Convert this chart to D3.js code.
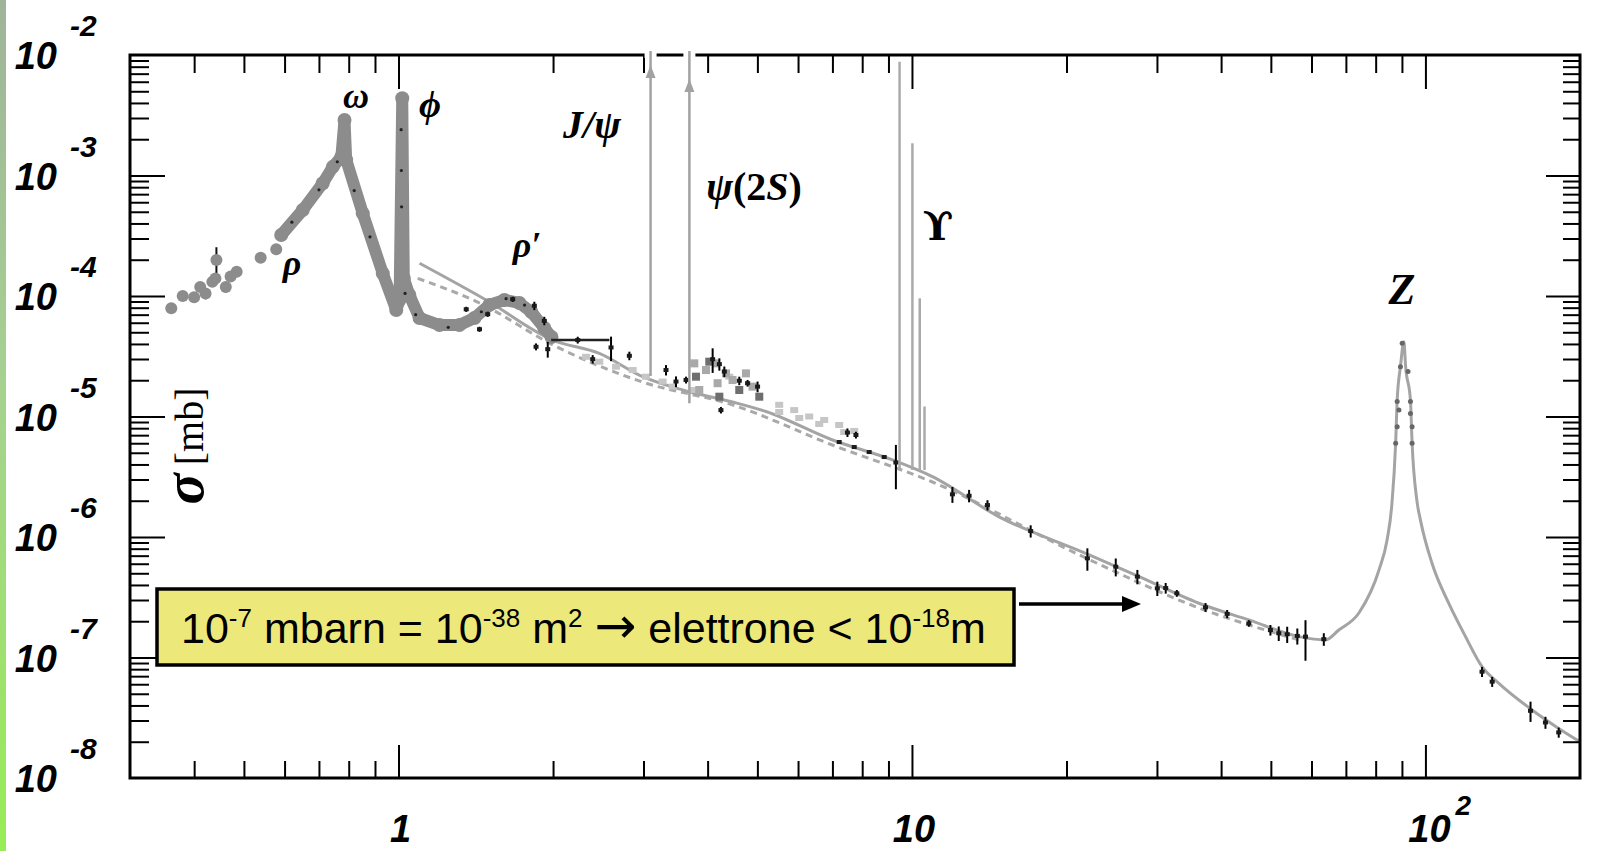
<!DOCTYPE html>
<html>
<head>
<meta charset="utf-8">
<script src="https://cdn.jsdelivr.net/npm/d3@7"></script>
<style>
body { margin: 0; background: #fff; }
svg { display: block; }
.tick line { stroke: #000; stroke-width: 2; }
</style>
</head>
<body>
<svg id="chart" width="1622" height="851"></svg>
<script>
// sqrt(s) in GeV, sigma in mb

// big grey dots below the rho, [E, sigma, err]
var lowPoints = [
    [0.361, 7.9e-5, 0], [0.380, 1.0e-4, 0], [0.400, 9.75e-5, 9e-6],
    [0.411, 1.19e-4, 0], [0.421, 1.05e-4, 1.1e-5], [0.434, 1.31e-4, 0],
    [0.440, 1.40e-4, 1.5e-5], [0.442, 1.99e-4, 5.5e-5], [0.461, 1.19e-4, 1.2e-5],
    [0.471, 1.45e-4, 0], [0.484, 1.59e-4, 1.5e-5], [0.539, 2.08e-4, 0],
    [0.578, 2.44e-4, 0]
];

// dense grey band: rho, omega, phi, rho'
var hadronBand = [
    [0.591, 3.21e-4], [0.651, 5.17e-4], [0.712, 8.62e-4], [0.745, 1.18e-3],
    [0.774, 1.43e-3], [0.785, 2.89e-3], [0.791, 1.35e-3], [0.852, 4.85e-4],
    [0.932, 1.54e-4], [0.990, 7.65e-5], [1.005, 9.3e-5], [1.017, 4.37e-3],
    [1.024, 1.4e-4], [1.05, 1.02e-4], [1.099, 6.57e-5], [1.202, 5.74e-5],
    [1.314, 5.74e-5], [1.406, 6.57e-5], [1.503, 8.42e-5], [1.608, 9.27e-5],
    [1.72, 8.75e-5], [1.815, 7.37e-5], [1.923, 5.42e-5], [1.986, 4.57e-5]
];

// small dark dots inside the band
var bandDots = [
    [0.62, 4.1e-4], [0.70, 7.6e-4], [0.76, 1.3e-3], [0.82, 7.5e-4], [0.88, 3.1e-4],
    [1.012, 2.4e-3], [1.013, 1.1e-3], [1.014, 5.5e-4], [1.03, 1.05e-4], [1.08, 7.0e-5],
    [1.25, 5.5e-5], [1.45, 7.4e-5], [1.62, 9.5e-5], [1.76, 8.4e-5]
];

// solid theory curve, continuum and Z
var contLine = [
    [1.099, 1.87e-4], [1.481, 9.27e-5], [1.997, 4.31e-5], [2.461, 3.34e-5],
    [2.989, 2.14e-5], [3.575, 1.66e-5], [4.473, 1.32e-5], [5.196, 1.10e-5],
    [7.003, 6.38e-6], [9.166, 4.36e-6], [10.96, 3.17e-6], [14.78, 1.47e-6],
    [21.8, 7.32e-7], [27.7, 4.69e-7], [36.2, 2.82e-7], [45.3, 2.05e-7],
    [56.7, 1.49e-7], [63.9, 1.40e-7], [67.8, 1.69e-7], [74.2, 2.34e-7],
    [81.2, 5.32e-7], [84.2, 9.44e-7], [86.0, 1.84e-6], [87.5, 6.0e-6],
    [88.1, 1.37e-5], [89.4, 2.59e-5], [90.8, 4.18e-5], [91.5, 2.59e-5],
    [93.5, 1.37e-5], [94.2, 6.0e-6], [96.2, 2.03e-6], [97.8, 1.38e-6],
    [103.0, 6.05e-7], [111.0, 2.82e-7], [119.7, 1.49e-7], [128.9, 8.4e-8],
    [139.0, 6.1e-8], [161.3, 3.67e-8], [181.8, 2.58e-8], [200, 2.0e-8]
];

// dashed curve
var dashLine = [
    [1.090, 1.40e-4], [1.438, 8.75e-5], [2.0, 3.92e-5], [2.99, 1.93e-5],
    [4.47, 1.25e-5], [7.0, 5.8e-6], [10.96, 2.86e-6], [21.8, 6.7e-7],
    [36.2, 2.58e-7], [56.7, 1.40e-7]
];

// black measurements, [E, sigma, err]
var blackPoints = [
    [1.355, 7.76e-5, 3.8e-6], [1.438, 5.30e-5, 2.6e-6], [1.492, 7.06e-5, 3.5e-6],
    [1.669, 9.40e-5, 4.6e-6], [1.839, 8.30e-5, 6.6e-6], [1.923, 6.22e-5, 5.0e-6],
    [1.853, 3.79e-5, 2.5e-6], [1.953, 3.62e-5, 5.4e-6], [2.234, 4.31e-5, 2.8e-6],
    [2.389, 2.99e-5, 2.4e-6], [2.594, 3.74e-5, 8.6e-6], [2.816, 3.19e-5, 2.6e-6],
    [3.319, 2.43e-5, 2.4e-6], [3.471, 1.95e-5, 2.0e-6], [3.631, 2.01e-5, 1.3e-6],
    [4.091, 2.99e-5, 6.9e-6], [4.216, 2.72e-5, 3.2e-6], [4.311, 2.36e-5, 2.4e-6],
    [4.246, 1.13e-5, 7e-7], [4.61, 1.98e-5, 1.6e-6], [4.785, 1.89e-5, 1.2e-6],
    [5.004, 1.77e-5, 1.8e-6], [7.216, 6.14e-6, 0], [7.488, 7.36e-6, 6e-7],
    [7.719, 5.58e-6, 0], [7.778, 7.02e-6, 4.5e-7], [8.255, 5.07e-6, 0],
    [8.829, 4.61e-6, 0], [9.305, 4.15e-6, 1.66e-6], [11.99, 2.26e-6, 3.4e-7],
    [12.92, 2.20e-6, 2.6e-7], [14.03, 1.84e-6, 1.8e-7], [17.03, 1.12e-6, 1.3e-7],
    [21.96, 6.65e-7, 1.4e-7], [24.94, 5.67e-7, 9.6e-8], [27.48, 4.69e-7, 6.4e-8],
    [30.05, 3.75e-7, 5.1e-8], [31.2, 3.77e-7, 3.8e-8], [32.8, 3.41e-7, 2.2e-8],
    [37.3, 2.61e-7, 2.2e-8], [41.1, 2.30e-7, 1.8e-8], [45.3, 1.92e-7, 1.2e-8],
    [49.9, 1.69e-7, 1.7e-8], [51.8, 1.59e-7, 2.2e-8], [53.8, 1.56e-7, 2.4e-8],
    [56.3, 1.51e-7, 2.3e-8], [58.4, 1.49e-7, 5.5e-8], [63.4, 1.42e-7, 1.7e-8],
    [128.9, 7.62e-8, 7.3e-9], [134.9, 6.3e-8, 6e-9], [160.2, 3.61e-8, 6.9e-9],
    [171.3, 2.89e-8, 3.3e-9], [181.8, 2.39e-8, 2.3e-9]
];

// one wide bin, [Emin, Emax, sigma]
var wideBins = [[1.983, 2.575, 4.31e-5]];

// light grey points (2-8 GeV)
var lightPoints = [
    [2.319, 3.13e-5], [2.461, 2.85e-5], [2.653, 2.59e-5], [2.858, 2.43e-5],
    [3.034, 2.14e-5], [3.269, 1.95e-5], [3.419, 1.77e-5], [3.739, 1.66e-5],
    [4.408, 2.14e-5], [5.514, 1.25e-5], [5.897, 1.13e-5], [6.308, 1.0e-5],
    [6.747, 9.35e-6], [7.216, 8.5e-6], [7.719, 7.58e-6], [5.514, 1.09e-5],
    [6.032, 9.72e-6], [6.598, 8.67e-6], [7.379, 7.43e-6]
];

// charm threshold cluster
var charmPoints = [
    [3.768, 2.76e-5], [3.797, 2.14e-5], [3.853, 1.66e-5], [3.971, 2.43e-5],
    [4.030, 2.85e-5], [4.153, 2.76e-5], [4.183, 1.89e-5], [4.216, 1.46e-5],
    [4.344, 2.28e-5], [4.473, 2.01e-5], [4.61, 1.66e-5], [4.75, 2.28e-5],
    [4.893, 1.77e-5], [5.043, 1.46e-5]
];

// dots on the Z peak
var zPeakDots = [
    [90.1, 4.05e-5], [89.4, 2.59e-5], [92.5, 2.36e-5], [88.1, 1.33e-5],
    [93.5, 1.33e-5], [88.8, 1.13e-5], [93.5, 1.06e-5], [88.1, 8.22e-6],
    [94.2, 8.22e-6], [87.5, 6.0e-6], [94.2, 6.0e-6]
];

// narrow resonances: [E, base, arrow tip]
var psiArrows = [[3.097, 2.17e-5, 8.26e-3], [3.686, 1.29e-5, 6.32e-3]];
var upsilonLines = [[9.46, 8.8e-3], [10.02, 1.85e-3], [10.355, 9.57e-5], [10.58, 1.21e-5]];
var upsilonBase = 3.6e-6;
var arrowTop = 1.08e-2;

var xMajor = [1, 10, 100];
var xMinor = [0.4, 0.5, 0.6, 0.7, 0.8, 0.9, 2, 3, 4, 5, 6, 7, 8, 9, 20, 30, 40, 50, 60, 70, 80, 90];
var yDecades = [-8, -7, -6, -5, -4, -3, -2];
var yMinorMult = [2, 3, 4, 5, 6, 7, 8, 9];

var svg = d3.select("#chart");
var frameL = 130, frameR = 1580, frameT = 55, frameB = 778;

var x = d3.scaleLog().domain([0.3, 200]).range([frameL, frameR]);
var y = d3.scaleLog().domain([1e-8, 1e-2]).range([frameB, frameT]);

// green slide edge
var grad = svg.append("defs").append("linearGradient")
    .attr("id", "edge").attr("x1", 0).attr("y1", 0).attr("x2", 0).attr("y2", 1);
grad.append("stop").attr("offset", "0%").attr("stop-color", "#9fb49a");
grad.append("stop").attr("offset", "45%").attr("stop-color", "#a6d190");
grad.append("stop").attr("offset", "100%").attr("stop-color", "#98ec57");
svg.append("rect").attr("x", 0).attr("y", 0).attr("width", 6).attr("height", 851)
    .attr("fill", "url(#edge)");

var line = d3.line()
    .x(function(d) { return x(d[0]); })
    .y(function(d) { return y(d[1]); });

// dashed and solid curves
svg.append("path")
    .datum(dashLine)
    .attr("d", line.curve(d3.curveMonotoneX))
    .attr("fill", "none")
    .attr("stroke", "#a9a9a9")
    .attr("stroke-width", 3)
    .attr("stroke-dasharray", "7,5");

svg.append("path")
    .datum(contLine)
    .attr("d", line.curve(d3.curveMonotoneX))
    .attr("fill", "none")
    .attr("stroke", "#a4a4a4")
    .attr("stroke-width", 3);

// light grey points
svg.selectAll(".light")
    .data(lightPoints)
    .enter().append("rect")
    .attr("class", "light")
    .attr("x", function(d) { return x(d[0]) - 4; })
    .attr("y", function(d) { return y(d[1]) - 3; })
    .attr("width", 8).attr("height", 6)
    .attr("fill", "#c6c6c6");

// heavy grey band
svg.append("path")
    .datum(hadronBand)
    .attr("d", line.curve(d3.curveLinear))
    .attr("fill", "none")
    .attr("stroke", "#8c8c8c")
    .attr("stroke-width", 12)
    .attr("stroke-linejoin", "round")
    .attr("stroke-linecap", "round");

svg.selectAll(".band")
    .data(hadronBand)
    .enter().append("circle")
    .attr("class", "band")
    .attr("cx", function(d) { return x(d[0]); })
    .attr("cy", function(d) { return y(d[1]); })
    .attr("r", 7)
    .attr("fill", "#8c8c8c");

svg.selectAll(".bdot")
    .data(bandDots)
    .enter().append("circle")
    .attr("class", "bdot")
    .attr("cx", function(d) { return x(d[0]); })
    .attr("cy", function(d) { return y(d[1]); })
    .attr("r", 1.6)
    .attr("fill", "#222");

// low energy dots with error bars
svg.selectAll(".lowerr")
    .data(lowPoints.filter(function(d) { return d[2] > 0; }))
    .enter().append("line")
    .attr("class", "lowerr")
    .attr("x1", function(d) { return x(d[0]); })
    .attr("x2", function(d) { return x(d[0]); })
    .attr("y1", function(d) { return y(d[1] - d[2]); })
    .attr("y2", function(d) { return y(d[1] + d[2]); })
    .attr("stroke", "#111")
    .attr("stroke-width", 2);

svg.selectAll(".low")
    .data(lowPoints)
    .enter().append("circle")
    .attr("class", "low")
    .attr("cx", function(d) { return x(d[0]); })
    .attr("cy", function(d) { return y(d[1]); })
    .attr("r", 6)
    .attr("fill", "#8c8c8c");

// charm cluster
svg.selectAll(".charm")
    .data(charmPoints)
    .enter().append("rect")
    .attr("class", "charm")
    .attr("x", function(d) { return x(d[0]) - 4; })
    .attr("y", function(d) { return y(d[1]) - 4; })
    .attr("width", 8).attr("height", 8)
    .attr("fill", function(d, i) { return i % 3 == 1 ? "#6e6e6e" : "#a9a9a9"; });

// black data with error bars
svg.selectAll(".err")
    .data(blackPoints.filter(function(d) { return d[2] > 0; }))
    .enter().append("line")
    .attr("class", "err")
    .attr("x1", function(d) { return x(d[0]); })
    .attr("x2", function(d) { return x(d[0]); })
    .attr("y1", function(d) { return y(d[1] - d[2]); })
    .attr("y2", function(d) { return y(d[1] + d[2]); })
    .attr("stroke", "#000")
    .attr("stroke-width", 2);

svg.selectAll(".xerr")
    .data(wideBins)
    .enter().append("line")
    .attr("class", "xerr")
    .attr("x1", function(d) { return x(d[0]); })
    .attr("x2", function(d) { return x(d[1]); })
    .attr("y1", function(d) { return y(d[2]); })
    .attr("y2", function(d) { return y(d[2]); })
    .attr("stroke", "#222")
    .attr("stroke-width", 2.5);

svg.selectAll(".blk")
    .data(blackPoints)
    .enter().append("rect")
    .attr("class", "blk")
    .attr("x", function(d) { return x(d[0]) - 2.5; })
    .attr("y", function(d) { return y(d[1]) - 2; })
    .attr("width", 5).attr("height", 4)
    .attr("fill", "#1a1a1a");

// Z peak dots
svg.selectAll(".zdot")
    .data(zPeakDots)
    .enter().append("circle")
    .attr("class", "zdot")
    .attr("cx", function(d) { return x(d[0]); })
    .attr("cy", function(d) { return y(d[1]); })
    .attr("r", 2.5)
    .attr("fill", "#666");

// frame
svg.append("rect")
    .attr("x", frameL).attr("y", frameT)
    .attr("width", frameR - frameL).attr("height", frameB - frameT)
    .attr("fill", "none")
    .attr("stroke", "#000")
    .attr("stroke-width", 3);

var yMajor = yDecades.slice(1, -1).map(function(p) { return Math.pow(10, p); });
var yMinor = [];
yDecades.slice(0, -1).forEach(function(p) {
    yMinorMult.forEach(function(m) { yMinor.push(m * Math.pow(10, p)); });
});

function drawTicks(axis, tr, vals, size) {
    svg.append("g")
        .attr("transform", tr)
        .call(axis.tickValues(vals).tickSize(size).tickFormat(""))
        .call(function(g) { g.select(".domain").remove(); });
}
drawTicks(d3.axisTop(x), "translate(0," + frameB + ")", xMajor, 33);
drawTicks(d3.axisTop(x), "translate(0," + frameB + ")", xMinor, 17);
drawTicks(d3.axisBottom(x), "translate(0," + frameT + ")", xMajor, 34);
drawTicks(d3.axisBottom(x), "translate(0," + frameT + ")", xMinor, 18);
drawTicks(d3.axisRight(y), "translate(" + frameL + ",0)", yMajor, 35);
drawTicks(d3.axisRight(y), "translate(" + frameL + ",0)", yMinor, 19);
drawTicks(d3.axisLeft(y), "translate(" + frameR + ",0)", yMajor, 34);
drawTicks(d3.axisLeft(y), "translate(" + frameR + ",0)", yMinor, 17);

// narrow resonances: gaps in the top border, then the lines
svg.selectAll(".gap")
    .data(psiArrows)
    .enter().append("rect")
    .attr("class", "gap")
    .attr("x", function(d) { return x(d[0]) - 6; })
    .attr("y", frameT - 3)
    .attr("width", 12).attr("height", 6)
    .attr("fill", "#fff");

svg.selectAll(".psi")
    .data(psiArrows)
    .enter().append("line")
    .attr("class", "psi")
    .attr("x1", function(d) { return x(d[0]); })
    .attr("x2", function(d) { return x(d[0]); })
    .attr("y1", function(d) { return y(d[1]); })
    .attr("y2", y(arrowTop))
    .attr("stroke", "#a2a2a2")
    .attr("stroke-width", 2.5);

svg.selectAll(".psihead")
    .data(psiArrows)
    .enter().append("path")
    .attr("class", "psihead")
    .attr("d", function(d) {
        var px = x(d[0]), py = y(d[2]);
        return "M" + px + "," + py + "L" + (px - 5) + "," + (py + 13) + "L" + (px + 5) + "," + (py + 13) + "Z";
    })
    .attr("fill", "#a2a2a2");

svg.selectAll(".ups")
    .data(upsilonLines)
    .enter().append("line")
    .attr("class", "ups")
    .attr("x1", function(d) { return x(d[0]); })
    .attr("x2", function(d) { return x(d[0]); })
    .attr("y1", y(upsilonBase))
    .attr("y2", function(d) { return y(d[1]); })
    .attr("stroke", "#aaaaaa")
    .attr("stroke-width", 2.5);

// tick labels
var sans = "'Liberation Sans', Arial, sans-serif";
var serif = "'Liberation Serif', 'Times New Roman', serif";

yDecades.forEach(function(p) {
    var ty = y(Math.pow(10, p));
    svg.append("text")
        .attr("x", 57).attr("y", ty + 14)
        .attr("text-anchor", "end")
        .style("font", "italic bold 38px " + sans)
        .text("10");
    svg.append("text")
        .attr("x", 70).attr("y", ty - 19)
        .style("font", "italic bold 30px " + sans)
        .text(String(p));
});

svg.append("text").attr("x", x(1) + 2).attr("y", 842)
    .attr("text-anchor", "middle")
    .style("font", "italic bold 38px " + sans).text("1");
svg.append("text").attr("x", x(10) + 2).attr("y", 842)
    .attr("text-anchor", "middle")
    .style("font", "italic bold 38px " + sans).text("10");
svg.append("text").attr("x", x(100) + 4).attr("y", 842)
    .attr("text-anchor", "middle")
    .style("font", "italic bold 38px " + sans).text("10");
svg.append("text").attr("x", x(100) + 30).attr("y", 815)
    .style("font", "italic bold 28px " + sans).text("2");

// axis title
var ytitle = svg.append("text")
    .attr("transform", "translate(203,446) rotate(-90)")
    .attr("text-anchor", "middle")
    .style("font-family", serif);
ytitle.append("tspan").style("font-size", "58px").style("font-weight", "bold")
    .style("font-style", "italic").text("\u03C3");
ytitle.append("tspan").style("font-size", "40px").text("\u2009[mb]");

// resonance labels
var peakLabels = [
    { t: "\u03C9", x: 356, y: 108, size: 36 },
    { t: "\u03D5", x: 430, y: 117, size: 38 },
    { t: "\u03C1", x: 292, y: 275, size: 36 },
    { t: "\u03C1\u2032", x: 527, y: 257, size: 36 },
    { t: "J/\u03C8", x: 592, y: 138, size: 40 },
    { t: "Z", x: 1402, y: 304, size: 44 }
];
peakLabels.forEach(function(l) {
    svg.append("text")
        .attr("x", l.x).attr("y", l.y)
        .attr("text-anchor", "middle")
        .style("font", "italic bold " + l.size + "px " + serif)
        .text(l.t);
});

var psiLabel = svg.append("text")
    .attr("x", 754).attr("y", 200)
    .attr("text-anchor", "middle")
    .style("font-family", serif).style("font-size", "40px").style("font-weight", "bold");
psiLabel.append("tspan").style("font-style", "italic").text("\u03C8");
psiLabel.append("tspan").text("(2");
psiLabel.append("tspan").style("font-style", "italic").text("S");
psiLabel.append("tspan").text(")");

svg.append("text")
    .attr("x", 938).attr("y", 240)
    .attr("text-anchor", "middle")
    .style("font", "bold 40px 'DejaVu Serif', serif")
    .text("\u03D2");

// yellow note
svg.append("rect")
    .attr("x", 157).attr("y", 589)
    .attr("width", 857).attr("height", 76)
    .attr("fill", "#ece97a")
    .attr("stroke", "#000")
    .attr("stroke-width", 3.5);

var note = svg.append("text")
    .attr("x", 181).attr("y", 643)
    .style("font-family", sans)
    .style("font-size", "43px");
// [text, superscript, arrow glyph]
var noteParts = [["10", 0], ["-7", 1], [" mbarn = 10", 0], ["-38", 1], [" m", 0], ["2", 1],
    [" ", 0], ["\u2192", 0, 1], [" elettrone < 10", 0], ["-18", 1], ["m", 0]];
var lastSup = 0;
noteParts.forEach(function(p) {
    var dy = (p[1] - lastSup) * -16;
    var t = note.append("tspan")
        .attr("dy", dy)
        .style("font-size", p[1] ? "26px" : "43px")
        .text(p[0]);
    if (p[2]) t.style("font-family", "'DejaVu Sans', sans-serif").style("font-size", "50px");
    lastSup = p[1];
});

svg.append("line")
    .attr("x1", 1019).attr("x2", 1126)
    .attr("y1", 604).attr("y2", 604)
    .attr("stroke", "#000").attr("stroke-width", 3.5);
svg.append("path")
    .attr("d", "M1122,596L1141,604L1122,612Z")
    .attr("fill", "#000");
</script>
</body>
</html>
